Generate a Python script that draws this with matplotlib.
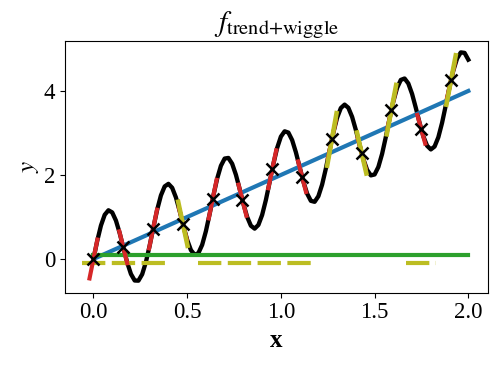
import numpy as np
import matplotlib
matplotlib.use('Agg')
from matplotlib import pyplot as plt

# black curve, every 0.02 on [0, 2]
curve_x = np.linspace(0, 2, 101)
curve_y = [0.000, 0.429, 0.797, 1.052, 1.160, 1.109, 0.915, 0.615, 0.262, -0.083,
           -0.357, -0.512, -0.516, -0.363, -0.071, 0.321, 0.757, 1.174, 1.514, 1.728,
           1.789, 1.695, 1.465, 1.143, 0.786, 0.456, 0.212, 0.099, 0.141, 0.337,
           0.663, 1.074, 1.512, 1.912, 2.219, 2.391, 2.406, 2.268, 2.006, 1.668,
           1.312, 1.002, 0.792, 0.723, 0.811, 1.049, 1.405, 1.830, 2.263, 2.642,
           2.913, 3.040, 3.009, 2.831, 2.541, 2.191, 1.842, 1.557, 1.385, 1.361,
           1.494, 1.771, 2.153, 2.587, 3.010, 3.363, 3.594, 3.675, 3.599, 3.384,
           3.071, 2.715, 2.378, 2.121, 1.990, 2.012, 2.190, 2.502, 2.906, 3.343,
           3.751, 4.073, 4.263, 4.297, 4.178, 3.929, 3.597, 3.240, 2.921, 2.696,
           2.608, 2.677, 2.897, 3.241, 3.661, 4.096, 4.485, 4.772, 4.918, 4.906,
           4.745]

# straight trend and flat base line
trend_x = [0.0, 2.0]
trend_y = [0.0, 4.0]
base_x = [0.0, 2.0]
base_y = [0.1, 0.1]

# sample points (x markers)
pts_x = [0.0, 0.159, 0.318, 0.477, 0.636, 0.795, 0.954, 1.113, 1.272, 1.431, 1.590, 1.749, 1.908]
pts_y = [0.0, 0.280, 0.713, 0.839, 1.425, 1.399, 2.136, 1.960, 2.846, 2.523, 3.555, 3.088, 4.261]

# slope of the red tangent at each point
red_slope = [22.0, -18.0, 21.9, -17.9, 21.8, -17.6, 21.5, -17.3, 21.1, -16.8, 20.5, -16.2, 19.9]

# yellow tangents: which points, and their slopes
yel_idx = [3, 8, 9, 10, 12]
yel_slope = [-21.0, 25.0, -19.5, 23.5, 23.5]

# dashed yellow line under the curve (missing where a yellow tangent is drawn)
mask_level = -0.1
mask_start = -0.06

plt.rcParams['font.family'] = 'serif'
plt.rcParams['font.serif'] = ['Liberation Serif', 'DejaVu Serif']
plt.rcParams['mathtext.fontset'] = 'stix'

fig, ax = plt.subplots(figsize=(4.99, 3.69), dpi=100)
fig.subplots_adjust(left=0.130, right=0.977, top=0.889, bottom=0.207)

ax.plot(curve_x, curve_y, color='k', lw=3.1, zorder=2)
ax.plot(trend_x, trend_y, color='#1f77b4', lw=3, zorder=3)
ax.plot(base_x, base_y, color='#2ca02c', lw=3, zorder=3)

# build the broken dashed line
half = (pts_x[1] - pts_x[0]) / 2
mx, my = [], []
for i in range(len(pts_x)):
    if i in yel_idx:
        mx.append(np.nan)
        my.append(np.nan)
        continue
    left = mask_start if i == 0 else pts_x[i] - half
    mx += [left, pts_x[i] + half]
    my += [mask_level, mask_level]
ax.plot(mx, my, color='#bcbd22', lw=3, dashes=(5.6, 1.55), zorder=3)

# tangent segments
dx_red = 0.021
for x0, y0, s in zip(pts_x, pts_y, red_slope):
    ax.plot([x0 - dx_red, x0 + dx_red], [y0 - s * dx_red, y0 + s * dx_red],
            color='#d62728', lw=3, zorder=4)

dx_yel = 0.025
for i, s in zip(yel_idx, yel_slope):
    x0, y0 = pts_x[i], pts_y[i]
    ax.plot([x0 - dx_yel, x0 + dx_yel], [y0 - s * dx_yel, y0 + s * dx_yel],
            color='#bcbd22', lw=3.3, zorder=5)

ax.plot(pts_x, pts_y, 'x', color='k', ms=9, mew=1.8, zorder=6)

ax.set_xlim(-0.1525, 2.1025)
ax.set_ylim(-0.80, 5.19)
ax.set_xticks([0.0, 0.5, 1.0, 1.5, 2.0])
ax.set_yticks([0, 2, 4])
ax.tick_params(labelsize=16.5)
ax.set_title(r'$f_{\mathrm{trend{+}wiggle}}$', fontsize=21, pad=3)
ax.set_xlabel('x', fontsize=18, fontweight='bold')
ax.set_ylabel(r'$y$', fontsize=18, labelpad=2)

fig.savefig('out.png', dpi=100)
